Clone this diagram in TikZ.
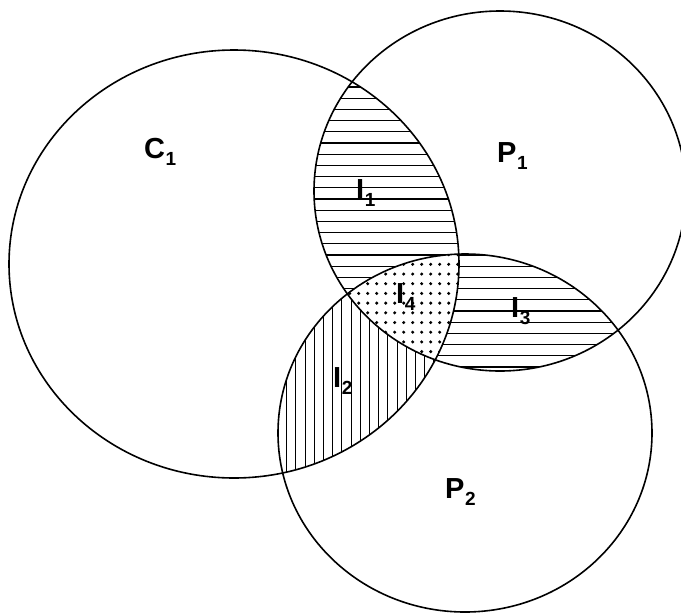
\documentclass[tikz,border=0pt]{standalone}
\usepackage{fontspec}
\setmainfont{Liberation Sans}
\newcommand\sublab[2]{#1\hspace{0.5pt}\raisebox{-7pt}{\fontsize{19}{20}\selectfont #2}}
\begin{document}
\begin{tikzpicture}[x=1pt,y=-1pt]
\tikzset{
  outline/.style={line width=1.6pt},
  hatch/.style={line width=1.1pt},
  lbl/.style={anchor=base west, inner sep=0pt, font=\fontsize{29}{30}\selectfont\bfseries}
}
\useasboundingbox (0,0) rectangle (681,614);
\fill[white] (0,0) rectangle (681,614);
% I1 and I4 : C1 cap P1, horizontal lines
\begin{scope}
  \clip (234,264) ellipse [x radius=225pt, y radius=214pt];
  \clip (500,191) ellipse [x radius=186pt, y radius=180pt];
  \foreach \y in {87,98.2,...,390} \draw[hatch] (280,\y) -- (700,\y);
\end{scope}
% I3 : P1 cap P2, horizontal lines
\begin{scope}
  \clip (500,191) ellipse [x radius=186pt, y radius=180pt];
  \clip (465,433) ellipse [x radius=187pt, y radius=179pt];
  \foreach \y in {87,98.2,...,390} \draw[hatch] (280,\y) -- (700,\y);
\end{scope}
% I2 : C1 cap P2, vertical lines
\begin{scope}
  \clip (234,264) ellipse [x radius=225pt, y radius=214pt];
  \clip (465,433) ellipse [x radius=187pt, y radius=179pt];
  \foreach \x in {277.5,286.7,...,470} \draw[hatch] (\x,240) -- (\x,520);
\end{scope}
% I4 : all three, dots
\begin{scope}
  \clip (234,264) ellipse [x radius=225pt, y radius=214pt];
  \clip (500,191) ellipse [x radius=186pt, y radius=180pt];
  \clip (465,433) ellipse [x radius=187pt, y radius=179pt];
  \fill[white] (330,240) rectangle (470,360);
  \foreach \x in {340.7,349.7,...,470} \foreach \y in {254.6,264.3,...,360} \fill (\x,\y) circle [radius=1.7pt];
\end{scope}
% outlines
\draw[outline] (234,264) ellipse [x radius=225pt, y radius=214pt];
\draw[outline] (500,191) ellipse [x radius=186pt, y radius=180pt];
\draw[outline] (465,433) ellipse [x radius=187pt, y radius=179pt];
% labels
\node[lbl] (c1) at (144,158) {\sublab{C}{1}};
\node[lbl] (p1) at (497,162) {\sublab{P}{1}};
\node[lbl] (p2) at (445,498) {\sublab{P}{2}};
\node[lbl] (i1) at (356,199) {\sublab{I}{1}};
\node[lbl] (i2) at (333,387) {\sublab{I}{2}};
\node[lbl] (i3) at (511,317) {\sublab{I}{3}};
\node[lbl] (i4) at (396,303) {\sublab{I}{4}};
\end{tikzpicture}
\end{document}
